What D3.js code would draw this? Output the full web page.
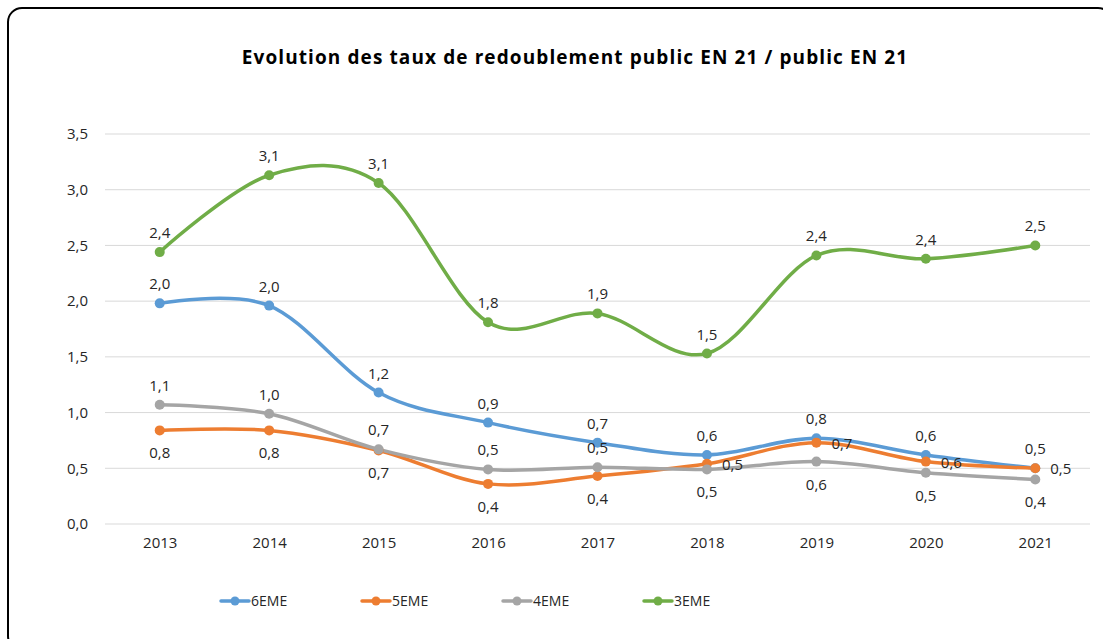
<!DOCTYPE html>
<html>
<head>
<meta charset="utf-8">
<script src="https://cdn.jsdelivr.net/npm/d3@7"></script>
<style>
  body { margin: 0; background: #fff; }
  svg { display: block; }
</style>
</head>
<body>
<div id="chart"></div>
<script>
// data
const years = ["2013", "2014", "2015", "2016", "2017", "2018", "2019", "2020", "2021"];
const sixieme = [1.98, 1.96, 1.18, 0.91, 0.73, 0.62, 0.77, 0.62, 0.50];
const cinquieme = [0.84, 0.84, 0.66, 0.36, 0.43, 0.54, 0.73, 0.56, 0.50];
const quatrieme = [1.07, 0.99, 0.67, 0.49, 0.51, 0.49, 0.56, 0.46, 0.40];
const troisieme = [2.44, 3.13, 3.06, 1.81, 1.89, 1.53, 2.41, 2.38, 2.50];
const yTicks = [0, 0.5, 1.0, 1.5, 2.0, 2.5, 3.0, 3.5];
const seriesNames = ["6EME", "5EME", "4EME", "3EME"];
// where Excel put each data label
const labelPos = [
    ["t", "t", "t", "t", "t", "t", "t", "t", "t"],
    ["b", "b", "b", "b", "b", "r", "r", "r", "r"],
    ["t", "t", "t", "t", "t", "b", "b", "b", "b"],
    ["t", "t", "t", "t", "t", "t", "t", "t", "t"]
];

const colors = ["#5B9BD5", "#ED7D31", "#A5A5A5", "#70AD47"];
const series = [sixieme, cinquieme, quatrieme, troisieme].map((vals, i) => ({
    name: seriesNames[i],
    color: colors[i],
    points: vals.map((v, j) => ({ year: years[j], value: v, pos: labelPos[i][j] }))
}));

const W = 1103, H = 639;
const font = "'Open Sans', sans-serif";
const svg = d3.select("#chart").append("svg")
    .attr("width", W)
    .attr("height", H);

// chart frame
svg.append("rect")
    .attr("x", 8).attr("y", 8)
    .attr("width", 1104).attr("height", 642)
    .attr("rx", 14)
    .attr("fill", "#fff")
    .attr("stroke", "#000")
    .attr("stroke-width", 2);

svg.append("text")
    .attr("x", 575).attr("y", 64)
    .attr("text-anchor", "middle")
    .style("font-family", font)
    .style("font-weight", "bold")
    .style("font-size", "19px")
    .style("letter-spacing", "1.1px")
    .attr("fill", "#000")
    .text("Evolution des taux de redoublement public EN 21 / public EN 21");

const plot = { left: 105, right: 1090, top: 134, bottom: 524 };

const x = d3.scalePoint()
    .domain(years)
    .range([plot.left, plot.right])
    .padding(0.5);

const y = d3.scaleLinear()
    .domain([0, 3.5])
    .range([plot.bottom, plot.top]);

const fmt = v => v.toFixed(1).replace(".", ",");

// gridlines
svg.append("g")
    .selectAll("line")
    .data(yTicks)
    .join("line")
    .attr("x1", plot.left).attr("x2", plot.right)
    .attr("y1", d => y(d)).attr("y2", d => y(d))
    .attr("stroke", "#d9d9d9")
    .attr("stroke-width", 1);

// y axis labels
const yAxis = svg.append("g")
    .attr("transform", `translate(${plot.left - 3},0)`)
    .call(d3.axisLeft(y).tickValues(yTicks).tickFormat(fmt).tickSize(0).tickPadding(14));
yAxis.select(".domain").remove();
yAxis.attr("font-size", null).attr("font-family", null);
yAxis.selectAll("text")
    .style("font-family", font)
    .style("font-size", "15px")
    .attr("fill", "#262626");

// x axis labels
const xAxis = svg.append("g")
    .attr("transform", `translate(0,${plot.bottom})`)
    .call(d3.axisBottom(x).tickSize(0).tickPadding(13));
xAxis.select(".domain").remove();
xAxis.attr("font-size", null).attr("font-family", null);
xAxis.selectAll("text")
    .style("font-family", font)
    .style("font-size", "15px")
    .attr("fill", "#262626");

const line = d3.line()
    .x(d => x(d.year))
    .y(d => y(d.value))
    .curve(d3.curveCardinal.tension(0));

const g = svg.append("g");

series.forEach(s => {
    g.append("path")
        .datum(s.points)
        .attr("d", line)
        .attr("fill", "none")
        .attr("stroke", s.color)
        .attr("stroke-width", 3.5)
        .attr("stroke-linecap", "round");
});

series.forEach(s => {
    g.selectAll(null)
        .data(s.points)
        .join("circle")
        .attr("cx", d => x(d.year))
        .attr("cy", d => y(d.value))
        .attr("r", 5)
        .attr("fill", s.color);
});

// data labels
series.forEach(s => {
    svg.append("g")
        .selectAll("text")
        .data(s.points)
        .join("text")
        .attr("x", d => d.pos === "r" ? x(d.year) + 15 : x(d.year))
        .attr("y", d => {
            if (d.pos === "t") return y(d.value) - 14;
            if (d.pos === "b") return y(d.value) + 28;
            return y(d.value) + 6;
        })
        .attr("text-anchor", d => d.pos === "r" ? "start" : "middle")
        .style("font-family", font)
        .style("font-size", "15px")
        .attr("fill", "#262626")
        .text(d => fmt(d.value));
});

// legend
const legend = svg.append("g")
    .selectAll("g")
    .data(series)
    .join("g")
    .attr("transform", (d, i) => `translate(${221 + i * 141},601)`);
legend.append("line")
    .attr("x1", 0).attr("x2", 28)
    .attr("stroke", d => d.color)
    .attr("stroke-width", 3.5)
    .attr("stroke-linecap", "round");
legend.append("circle")
    .attr("cx", 14)
    .attr("r", 4.5)
    .attr("fill", d => d.color);
legend.append("text")
    .attr("x", 30).attr("y", 5)
    .style("font-family", font)
    .style("font-size", "14px")
    .attr("fill", "#262626")
    .text(d => d.name);
</script>
</body>
</html>
